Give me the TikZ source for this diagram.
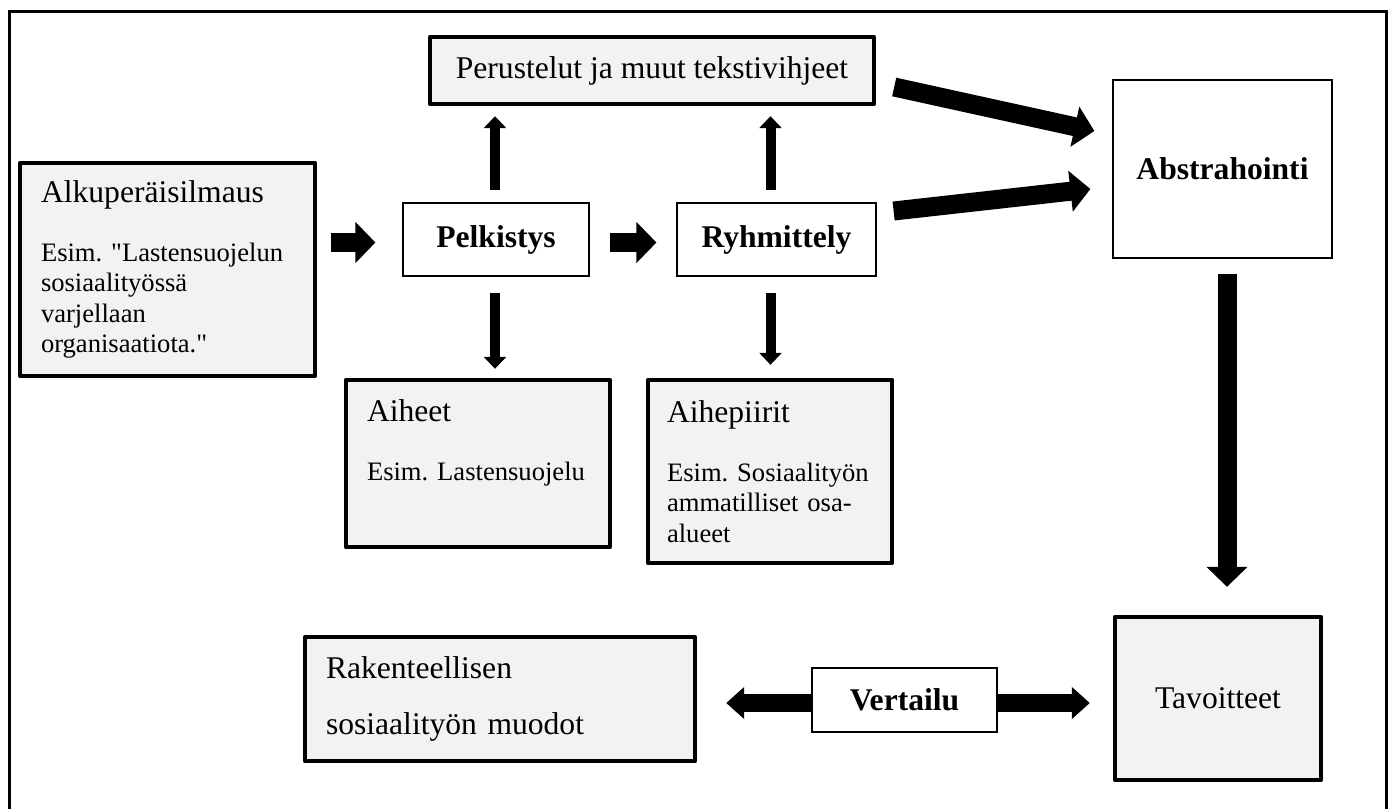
\documentclass[tikz,border=0pt]{standalone}
\usepackage{fontspec}
\setmainfont{Liberation Serif}[Ligatures=TeXOff]
\usetikzlibrary{arrows.meta}
\definecolor{boxgray}{RGB}{242,242,242}
\newcommand{\bigtxt}{\fontsize{15.8}{18}\selectfont}
\newcommand{\smalltxt}{\fontsize{13.3}{15.25}\selectfont}
\frenchspacing
\hyphenpenalty=10000

\begin{document}
\begin{tikzpicture}[x=0.5pt, y=-0.5pt,
    thickbox/.style={rectangle, draw=black, line width=2.2pt, fill=boxgray, line join=round, inner sep=0pt, font=\bigtxt},
    thinbox/.style={rectangle, draw=black, line width=0.6pt, fill=white, inner sep=0pt, font=\bigtxt\bfseries},
    textbox/.style={thickbox, align=left, inner xsep=10.5pt, font=\smalltxt},
    bigarrow/.style={line width=9.5pt, -{Triangle[length=10pt,width=20pt]}},
    smallarrow/.style={line width=5pt, -{Triangle[length=6pt,width=11pt]}},
    dblarrow/.style={line width=9pt, {Triangle[length=9pt,width=15.5pt]}-{Triangle[length=9pt,width=15.5pt]}}
  ]
  \useasboundingbox (0,0) rectangle (1392,809);
  % outer frame, open at the bottom
  \draw[line width=1.5pt] (9,809) |- (1386,11) -- (1386,809);

  % boxes
  \node[thickbox, minimum width=222pt, minimum height=33.5pt] (perus) at (652,70.5) {Perustelut ja muut tekstivihjeet};
  \node[thinbox, minimum width=109.5pt, minimum height=89pt] (abstr) at (1222.5,169) {Abstrahointi};
  \node[textbox, text width=126.5pt, minimum height=106.5pt] (alku) at (167.5,269.5)
    {{\bigtxt Alkuperäisilmaus}\\[14.25pt] Esim. "Lastensuojelun\\ sosiaalityössä\\ varjellaan\\ organisaatiota."\par};
  \node[thinbox, minimum width=93pt, minimum height=36.5pt] (pelk) at (496,239.5) {Pelkistys};
  \node[thinbox, minimum width=99.5pt, minimum height=36.5pt] (ryhm) at (776.5,239.5) {Ryhmittely};
  \node[textbox, text width=111pt, minimum height=83.5pt] (aiheet) at (478,463.5)
    {{\bigtxt Aiheet}\\[14.25pt] Esim. Lastensuojelu\\[4pt] \strut\par};
  \node[textbox, text width=103pt, inner xsep=9.5pt, minimum height=91.5pt] (aihep) at (770,471.5)
    {{\bigtxt Aihepiirit}\\[14.25pt] Esim. Sosiaalityön\\ ammatilliset osa-\\ alueet\par};
  \node[textbox, text width=174pt, minimum height=62pt, font=\bigtxt] (raken) at (500,699)
    {Rakenteellisen\\[10pt] sosiaalityön muodot\par};
  \node[thickbox, minimum width=103pt, minimum height=81.5pt] (tavo) at (1218,698.5) {Tavoitteet};

  % arrows
  \draw[bigarrow, shorten <=7pt, shorten >=13.5pt] ([shift={(0,3)}]pelk.west -| alku.east) -- ([shift={(0,3)}]pelk.west);
  \draw[bigarrow, shorten <=10pt, shorten >=10pt] ([shift={(0,3)}]pelk.east) -- ([shift={(0,3)}]ryhm.west);
  \draw[smallarrow, shorten <=6pt, shorten >=5pt] ([shift={(-1,0)}]pelk.north) -- ([shift={(-1,0)}]pelk.north |- perus.south);
  \draw[smallarrow, shorten <=6pt, shorten >=5pt] ([shift={(-6,0)}]ryhm.north) -- ([shift={(-6,0)}]ryhm.north |- perus.south);
  \draw[smallarrow, shorten <=8pt, shorten >=4.5pt] ([shift={(-1,0)}]pelk.south) -- ([shift={(-1,0)}]pelk.south |- aiheet.north);
  \draw[smallarrow, shorten <=8pt, shorten >=6.5pt] ([shift={(-6,0)}]ryhm.south) -- ([shift={(-6,0)}]ryhm.south |- aihep.north);
  \draw[bigarrow] ([shift={(18,16.5)}]perus.east) -- ([shift={(-18,-38)}]abstr.west);
  \draw[bigarrow] ([shift={(17,-28.5)}]ryhm.east) -- ([shift={(-22,20)}]abstr.west);
  \draw[bigarrow, shorten <=7.5pt, shorten >=14pt] ([shift={(4.5,0)}]abstr.south) -- ([shift={(4.5,0)}]abstr.south |- tavo.north);
  \draw[dblarrow, shorten <=14.5pt, shorten >=11.5pt] ([shift={(0,4)}]raken.east) -- ([shift={(0,4)}]raken.east -| tavo.west);

  \node[thinbox, minimum width=92.5pt, minimum height=32pt] (vert) at (904.5,700) {Vertailu};
\end{tikzpicture}
\end{document}
